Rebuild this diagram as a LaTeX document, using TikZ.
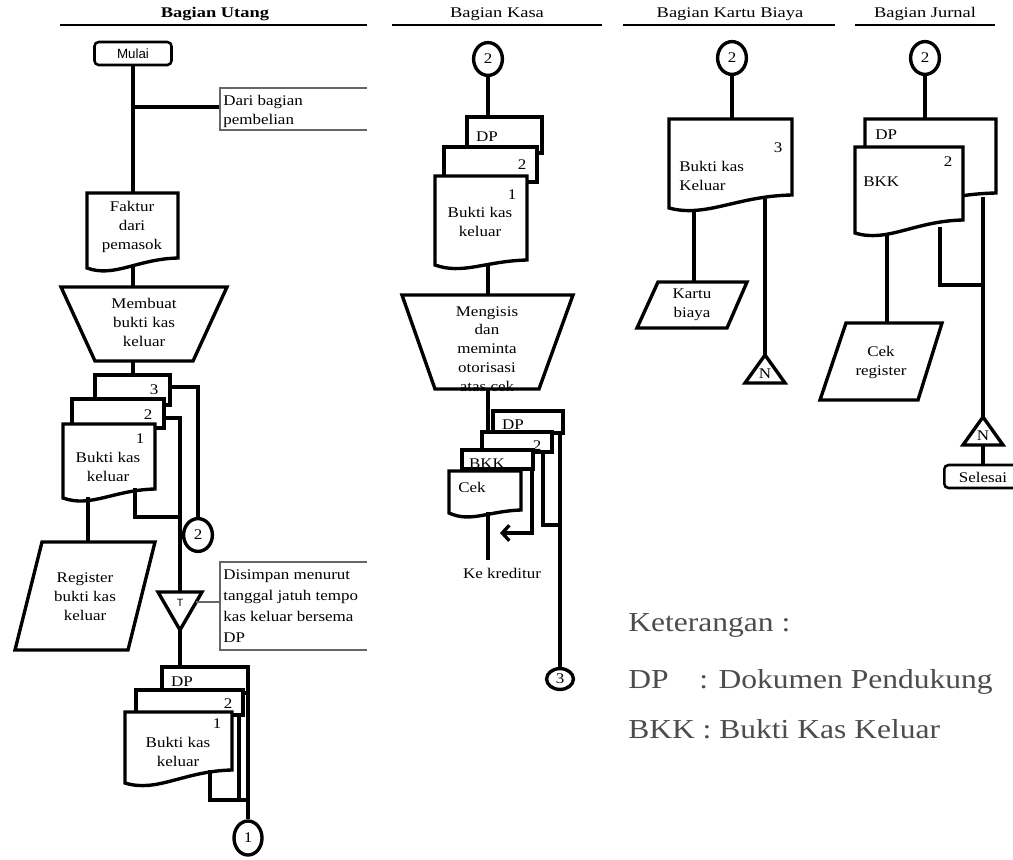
\documentclass[tikz,border=0pt]{standalone}
\usepackage{fontspec}
\setmainfont{Liberation Serif}[FakeStretch=1.15]
\newfontfamily\legfont{Liberation Serif}[FakeStretch=1.15]
\newfontfamily\hdrfont{Liberation Serif}[FakeStretch=1.25]
\setsansfont{Liberation Sans}
\usetikzlibrary{arrows.meta,shapes.geometric}
% document symbol: x1, top, x2, right-bottom y, left-bottom y
\newcommand{\docu}[6][]{%
  \draw[docst,#1] (#2,#3) -- (#4,#3) -- (#4,#5)
    .. controls ({#2+0.55*(#4-#2)},{#5+1}) and ({#2+0.3*(#4-#2)},{#6+10}) .. (#2,#6) -- cycle;}
\begin{document}
\begin{tikzpicture}[x=0.025cm,y=-0.025cm,
  thk/.style={line width=2.4pt},
  docst/.style={draw,line width=2.4pt,fill=white,line join=miter},
  ann/.style={draw=black!60,line width=0.8pt},
  hline/.style={line width=1.4pt},
  lbl/.style={font=\fontsize{10.5}{13.5}\selectfont,inner sep=0pt,align=center},
  num/.style={font=\fontsize{10.5}{12}\selectfont,inner sep=0pt},
  hdr/.style={font=\hdrfont\fontsize{10.5}{12}\selectfont,inner sep=0pt},
  conn/.style={draw,ellipse,line width=2.4pt,fill=white,inner sep=0pt,
    minimum width=0.72cm,minimum height=0.82cm,font=\fontsize{10.5}{12}\selectfont},
  leg/.style={font=\legfont\fontsize{19.5}{22}\selectfont,text=black!70,inner sep=0pt,anchor=base west},
]
\useasboundingbox (0,0) rectangle (1013,860);

% ---------------- headers
\node[hdr,font=\hdrfont\fontsize{10.5}{12}\selectfont\bfseries] (hU) at (215,14) {Bagian Utang};
\draw[hline] (60,25) -- (367,25);
\node[hdr] (hK) at (497,14) {Bagian Kasa};
\draw[hline] (392,25) -- (602,25);
\node[hdr] (hB) at (730,14) {Bagian Kartu Biaya};
\draw[hline] (623,25) -- (835,25);
\node[hdr] (hJ) at (925,14) {Bagian Jurnal};
\draw[hline] (855,25) -- (995,25);

% ================= Bagian Utang
\node[draw,rounded corners=3pt,line width=1.8pt,minimum width=1.925cm,minimum height=0.575cm,
  inner sep=0pt,font=\sffamily\fontsize{9.5}{10}\selectfont] (mulai) at (133,53.5) {Mulai};
\docu{87}{193}{178}{258}{268}
\node[lbl] (faktur) at (132,227) {Faktur\\dari\\pemasok};
\coordinate (fakT) at (133,193);
\coordinate (fakB) at (133,266);
\draw[thk] (mulai.south) -- (fakT);
\coordinate (br1) at (133,107);
\coordinate (annA) at (220,107);
\draw[thk] (br1) -- (annA);
\draw[ann] (367,88) -- (220,88) -- (220,130) -- (367,130);
\node[lbl,align=left,anchor=west] (dari) at (223,111) {Dari bagian\\pembelian};

\draw[docst] (61,287) -- (227,287) -- (193,361) -- (95,361) -- cycle;
\node[lbl] (membuat) at (144,322) {Membuat\\bukti kas\\keluar};
\coordinate (mbT) at (133,287);
\coordinate (mbB) at (133,361);
\draw[thk] (fakB) -- (mbT);

\draw[docst] (95,375) rectangle (170,405);
\node[num] (u3) at (154,390) {3};
\draw[docst] (72,399) rectangle (164,428);
\node[num] (u2) at (148,415) {2};
\docu{63}{424}{155}{489}{498}
\node[num] (u1) at (140,439) {1};
\node[lbl] (ubkk) at (108,467) {Bukti kas\\keluar};
\coordinate (stkT) at (133,375);
\draw[thk] (mbB) -- (stkT);

\node[conn] (c2u) at (198,535) {2};
\coordinate (c3R) at (170,387);
\draw[thk] (c3R) -| (c2u.north);
\coordinate (c2R) at (164,418);
\coordinate (tTop) at (180,592);
\draw[thk] (c2R) -| (tTop);
\coordinate (c1B) at (135,488);
\coordinate (j1) at (180,517);
\draw[thk] (c1B) |- (j1);
\coordinate (c1L) at (88,497);
\coordinate (regT) at (88,542);
\draw[thk] (c1L) -- (regT);

\draw[docst] (42,542) -- (155,542) -- (128,650) -- (15,650) -- cycle;
\node[lbl] (reg) at (85,597) {Register\\bukti kas\\keluar};

\draw[docst] (158,592) -- (202,592) -- (180,630) -- cycle;
\node[font=\sffamily\fontsize{7.5}{8}\selectfont,inner sep=0pt] (tT) at (180,603) {T};
\coordinate (tR) at (196,602);
\coordinate (annB) at (220,602);
\draw[ann] (tR) -- (annB);
\draw[ann] (367,562) -- (220,562) -- (220,650) -- (367,650);
\node[lbl,align=left,anchor=west,font=\fontsize{10.5}{14.8}\selectfont] (simpan) at (223,606)
  {Disimpan menurut\\tanggal jatuh tempo\\kas keluar bersema\\DP};
\coordinate (tApex) at (180,630);
\coordinate (stk2T) at (180,667);
\draw[thk] (tApex) -- (stk2T);

\draw[docst] (162,667) rectangle (248,693);
\node[num] (bdp) at (182,682) {DP};
\draw[docst] (136,690) rectangle (243,715);
\node[num] (b2) at (228,704) {2};
\docu{125}{712}{232}{770}{783}
\node[num] (b1) at (217,724) {1};
\node[lbl] (bbkk) at (178,752) {Bukti kas\\keluar};
\node[conn,minimum width=0.7cm,minimum height=0.85cm] (c1u) at (248,838) {1};
\coordinate (bdpR) at (248,693);
\draw[thk] (bdpR) -- (c1u.north);
\coordinate (b2R) at (239,715);
\coordinate (b2J) at (239,800);
\draw[thk] (b2R) -- (b2J);
\coordinate (b1B) at (210,770);
\coordinate (bJ) at (248,800);
\draw[thk] (b1B) |- (bJ);

% ================= Bagian Kasa
\node[conn] (c2k) at (488,59) {2};
\draw[docst] (467,117) rectangle (542,153);
\node[num] (kdp) at (487,137) {DP};
\draw[docst] (444,147) rectangle (537,182);
\node[num] (k2) at (522,165) {2};
\docu{435}{176}{527}{260}{265}
\node[num] (k1) at (512,195) {1};
\node[lbl] (kbkk) at (480,222) {Bukti kas\\keluar};
\coordinate (kT) at (488,117);
\draw[thk] (c2k.south) -- (kT);
\coordinate (kB) at (488,263);
\coordinate (mgT) at (488,295);
\draw[thk] (kB) -- (mgT);

\node[lbl,font=\fontsize{10.5}{13.4}\selectfont] (mengisi) at (487,349) {Mengisis\\dan\\meminta\\otorisasi\\atas cek};
\draw[docst,fill=none] (402,295) -- (573,295) -- (539,389) -- (435,389) -- cycle;
\coordinate (mgB) at (488,389);
\coordinate (k4T) at (488,432);
\draw[thk] (mgB) -- (k4T);

\draw[docst] (493,411) rectangle (563,433);
\node[num] (k4dp) at (513,425) {DP};
\draw[docst] (482,432) rectangle (552,452);
\node[num] (k42) at (537,446) {2};
\draw[docst] (462,450) rectangle (533,469);
\node[num] (k4bkk) at (487,464) {BKK};
\docu{449}{471}{521}{510}{513}
\node[num] (cek) at (472,487) {Cek};

\coordinate (cekB) at (488,512);
\coordinate (kred) at (488,560);
\draw[thk] (cekB) -- (kred);
\node[num] (kekred) at (502,573) {Ke kreditur};
\coordinate (bkkR) at (532,469);
\coordinate (arrE) at (500,533);
\draw[thk,-{Straight Barb[length=5pt,width=11pt]}] (bkkR) |- (arrE);
\coordinate (k42R) at (543,452);
\coordinate (k42J) at (560,525);
\draw[thk] (k42R) |- (k42J);
\node[conn,minimum width=0.67cm,minimum height=0.52cm] (c3k) at (560,679) {3};
\coordinate (k4dpR) at (560,433);
\draw[thk] (k4dpR) -- (c3k.north);

% ================= Bagian Kartu Biaya
\node[conn] (c2b) at (732,58) {2};
\docu{669}{119}{792}{195}{208}
\node[num] (b3) at (778,148) {3};
\node[lbl,align=left,anchor=west] (bbk) at (679,176) {Bukti kas\\Keluar};
\coordinate (bT) at (732,119);
\draw[thk] (c2b.south) -- (bT);
\coordinate (bB) at (694,209);
\coordinate (kbT) at (694,282);
\draw[thk] (bB) -- (kbT);
\draw[docst] (658,282) -- (747,282) -- (727,328) -- (637,328) -- cycle;
\node[lbl] (kartu) at (692,305) {Kartu\\biaya};
\coordinate (bR) at (765,199);
\coordinate (nbT) at (765,355);
\draw[thk] (bR) -- (nbT);
\draw[docst] (765,355) -- (785,383) -- (745,383) -- cycle;
\node[num] (nb) at (765,374) {N};

% ================= Bagian Jurnal
\node[conn] (c2j) at (925,58) {2};
\docu{865}{119}{996}{193}{205}
\node[num,anchor=west] (jdp) at (875,135) {DP};
\docu{855}{147}{963}{220}{233}
\node[num] (j2) at (948,162) {2};
\node[num,anchor=west] (jbkk) at (863,182) {BKK};
\coordinate (jT) at (925,119);
\draw[thk] (c2j.south) -- (jT);
\coordinate (jB) at (887,235);
\coordinate (crT) at (887,323);
\draw[thk] (jB) -- (crT);
\draw[docst] (846,323) -- (942,323) -- (918,400) -- (820,400) -- cycle;
\node[lbl] (cekreg) at (881,362) {Cek\\register};
\coordinate (j2R) at (940,227);
\coordinate (jJ) at (983,285);
\draw[thk] (j2R) |- (jJ);
\coordinate (jdpR) at (983,197);
\coordinate (njT) at (983,417);
\draw[thk] (jdpR) -- (njT);
\draw[docst] (983,417) -- (1003,445) -- (963,445) -- cycle;
\node[num] (nj) at (983,436) {N};
\coordinate (njB) at (983,445);
\node[draw,rounded corners=3pt,line width=1.8pt,minimum width=1.9cm,minimum height=0.575cm,
  inner sep=0pt,anchor=west] (selesai) at (943,476.5) {};
\node[num] (seltxt) at (983,477) {Selesai};
\draw[thk] (njB) -- (selesai.north -| njB);

% ================= Legend
\node[leg] (ket) at (628,631) {Keterangan :};
\node[leg] (ldp) at (628,688) {DP};
\node[leg] (ldpt) at (699,688) {: Dokumen Pendukung};
\node[leg] (lbkk) at (628,738) {BKK : Bukti Kas Keluar};
\end{tikzpicture}
\end{document}
